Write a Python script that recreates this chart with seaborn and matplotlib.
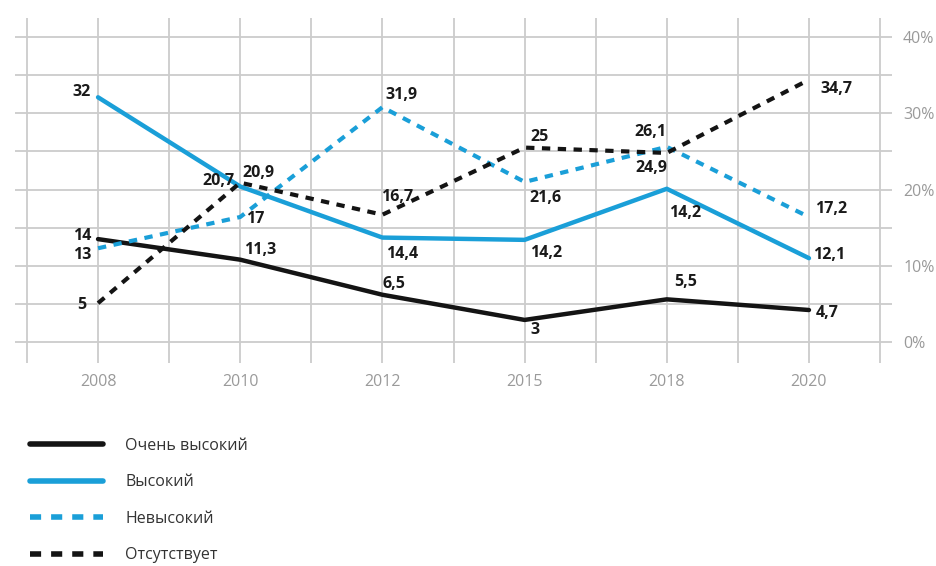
"""Line chart: share of respondents by level, 2008-2020."""

import matplotlib
matplotlib.use('Agg')
import matplotlib.pyplot as plt
import numpy as np
import seaborn as sns

# --- data ---
years = ['2008', '2010', '2012', '2015', '2018', '2020']
series_names = ['Очень высокий', 'Высокий', 'Невысокий', 'Отсутствует']

very_high = [13.5, 10.8, 6.2, 2.9, 5.6, 4.2]
high = [32.1, 20.4, 13.7, 13.4, 20.1, 11.0]
not_high = [12.3, 16.4, 30.8, 21.0, 25.6, 16.4]
absent = [5.1, 20.9, 16.7, 25.5, 24.8, 34.4]

very_high_labels = ['14', '11,3', '6,5', '3', '5,5', '4,7']
high_labels = ['32', '20,7', '14,4', '14,2', '14,2', '12,1']
not_high_labels = ['13', '17', '31,9', '21,6', '26,1', '17,2']
absent_labels = ['5', '20,9', '16,7', '25', '24,9', '34,7']

y_ticks = [0, 10, 20, 30, 40]

# label offsets in pixels (dx, dy) from each point
very_high_off = [(-16, 3), (20, 10), (12, 11), (10, -10), (19, 17), (18, -3)]
high_off = [(-16, 5), (-22, 5), (20, -16), (22, -13), (18, -24), (20, 3)]
not_high_off = [(-16, -7), (15, -2), (19, 12), (21, -16), (-16, 15), (22, 8)]
absent_off = [(-16, -2), (18, 10), (15, 18), (15, 11), (-15, -15), (27, -9)]

BLUE = '#1a9fd8'
BLACK = '#141414'
GRID = '#cccccc'
TICK = '#9a9a9a'

sns.set_style('white')
plt.rcParams['font.family'] = ['Open Sans', 'DejaVu Sans']

fig = plt.figure(figsize=(9.36, 5.66), dpi=100)
ax = fig.add_axes([15 / 936, 1 - 363 / 566, (892 - 15) / 936, (363 - 18) / 566])

x = np.arange(len(years))

# grid drawn by hand so it overhangs like the original
for gx in np.arange(-0.5, 5.51, 0.5):
    ax.axvline(gx, color=GRID, lw=1.3, zorder=0)
for gy in range(0, 41, 5):
    ax.axhline(gy, color=GRID, lw=1.3, zorder=0)

styles = [
    (very_high, very_high_labels, very_high_off, BLACK, '-', 3.2),
    (high, high_labels, high_off, BLUE, '-', 3.2),
    (not_high, not_high_labels, not_high_off, BLUE, (0, (2.0, 1.8)), 3.0),
    (absent, absent_labels, absent_off, BLACK, (0, (2.0, 1.8)), 3.0),
]

for name, (vals, labs, offs, color, ls, lw) in zip(series_names, styles):
    sns.lineplot(x=x, y=vals, ax=ax, color=color, linestyle=ls, lw=lw,
                 label=name, legend=False, zorder=3)
    for xi, v, lab, (dx, dy) in zip(x, vals, labs, offs):
        ax.annotate(lab, (xi, v), xytext=(dx, dy), textcoords='offset pixels',
                    ha='center', va='center', fontsize=11.5, fontweight='bold',
                    color='#1a1a1a', zorder=5)

ax.set_xlim(-0.584, 5.584)
ax.set_ylim(-2.75, 42.5)
ax.set_xticks(x)
ax.set_xticklabels(years)
ax.set_yticks(y_ticks)
ax.set_yticklabels([f'{t}%' for t in y_ticks])
ax.yaxis.tick_right()
ax.tick_params(axis='both', length=0, colors=TICK, labelsize=11.5)
ax.tick_params(axis='x', pad=8)
ax.tick_params(axis='y', pad=8)
for sp in ax.spines.values():
    sp.set_visible(False)
ax.set_xlabel('')
ax.set_ylabel('')

handles = ax.get_lines()
handles = [h for h in handles if h.get_label() in series_names]
leg = fig.legend(handles=handles, labels=series_names, loc='upper left',
                 bbox_to_anchor=(30 / 936, 1 - 438 / 566), frameon=False,
                 borderpad=0, borderaxespad=0, handlelength=4.6,
                 handletextpad=1.35, labelspacing=1.28, fontsize=11.5)
for t in leg.get_texts():
    t.set_color('#333333')
for h in leg.get_lines():
    h.set_linewidth(4)

fig.savefig('out.png', dpi=100)
